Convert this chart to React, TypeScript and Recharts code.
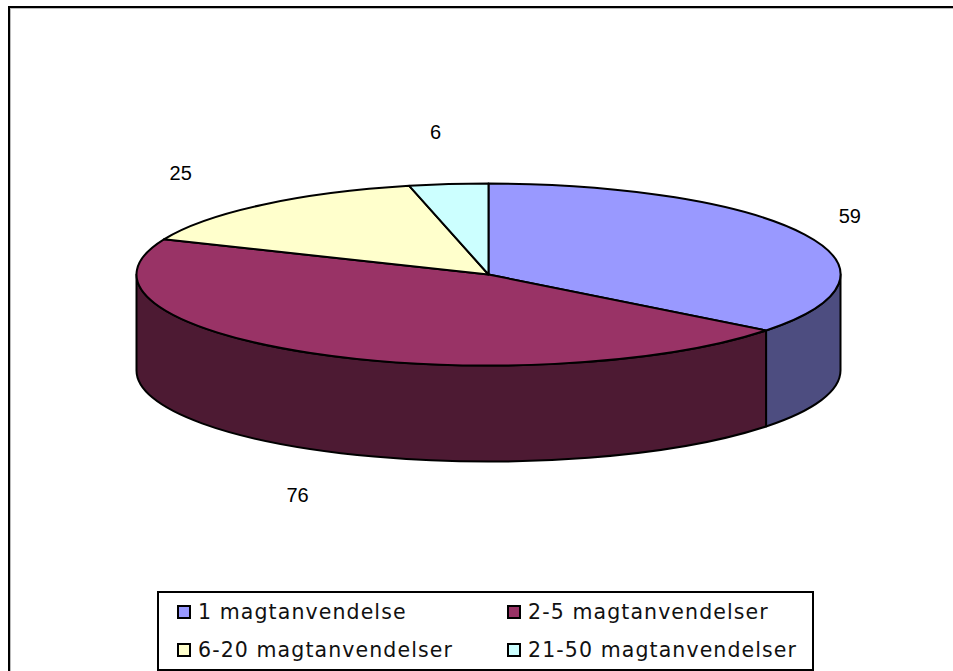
import React from "react";
import { PieChart, Pie, Legend } from "recharts";

const categories = ["1 magtanvendelse", "2-5 magtanvendelser", "6-20 magtanvendelser", "21-50 magtanvendelser"];
const values = [59, 76, 25, 6];
const topColors = ["#9999FF", "#993366", "#FFFFCC", "#CCFFFF"];
const wallColors = ["#4D4D80", "#4D1A33", "#808066", "#668080"];
const labelShift = [[45, -19], [-13, 142], [-81, -32], [-13, -52]];

const tableTop = categories.map((name, i) => ({ name, value: values[i], fill: topColors[i] }));
const tableWall = categories.map((name, i) => ({ name, value: values[i], fill: wallColors[i] }));

const CX = 488.5;
const CY = 274.5;
const RX = 352;
const RY = 91;
const DEPTH = 96;
const SQUASH = RY / RX;
const LINE = 2;

const rim = (cx: number, cy: number, r: number, deg: number) => {
  const a = (deg * Math.PI) / 180;
  return [cx + r * Math.cos(a), cy - r * SQUASH * Math.sin(a)];
};

const TopSlice = (p: any) => {
  const { cx, cy, outerRadius: r, startAngle, endAngle, fill } = p;
  const [x1, y1] = rim(cx, cy, r, startAngle);
  const [x2, y2] = rim(cx, cy, r, endAngle);
  const large = Math.abs(startAngle - endAngle) > 180 ? 1 : 0;
  return (
    <path
      d={`M${cx},${cy} L${x1},${y1} A${r},${r * SQUASH} 0 ${large} 1 ${x2},${y2} Z`}
      fill={fill}
      stroke="#000"
      strokeWidth={LINE}
      strokeLinejoin="round"
    />
  );
};

const WallSlice = (p: any) => {
  const { cx, cy, outerRadius: r, startAngle, endAngle, fill } = p;
  // Front half of the disc: angles between 0 and -180 in the library's convention
  const from = Math.min(startAngle, 0);
  const to = Math.max(endAngle, -180);
  if (from <= to) return <g />;
  const [x1, y1] = rim(cx, cy, r, from);
  const [x2, y2] = rim(cx, cy, r, to);
  const ry = r * SQUASH;
  return (
    <path
      d={`M${x1},${y1} A${r},${ry} 0 0 1 ${x2},${y2} L${x2},${y2 + DEPTH} A${r},${ry} 0 0 0 ${x1},${y1 + DEPTH} Z`}
      fill={fill}
      stroke="#000"
      strokeWidth={LINE}
      strokeLinejoin="round"
    />
  );
};

const renderLabel = (p: any) => {
  const { cx, cy, outerRadius: r, midAngle, index, value } = p;
  const [x, y] = rim(cx, cy, r, midAngle);
  return (
    <text
      x={x + labelShift[index][0]}
      y={y + labelShift[index][1]}
      textAnchor="middle"
      dominantBaseline="central"
      fill="#000"
      fontFamily="'Liberation Sans', Arial, sans-serif"
      fontSize={20}
    >
      {value}
    </text>
  );
};

const LegendBox = ({ payload }: any) => {
  const items = (payload || []).filter((e: any) => e.type !== "none");
  return (
    <div
      style={{
        boxSizing: "border-box",
        width: 657,
        height: 80,
        border: "2px solid #000",
        background: "#fff",
        position: "relative",
        fontFamily: "'DejaVu Sans', Verdana, sans-serif",
        fontSize: 20.5,
        letterSpacing: 1.1,
        color: "#111",
      }}
    >
      {items.map((e: any, i: number) => {
        const col = i % 2;
        const row = Math.floor(i / 2);
        return (
          <div
            key={e.value}
            style={{
              position: "absolute",
              left: col === 0 ? 18 : 348,
              top: row === 0 ? 0 : 38,
              height: 38,
              display: "flex",
              alignItems: "center",
              whiteSpace: "nowrap",
            }}
          >
            <span
              style={{
                display: "inline-block",
                boxSizing: "border-box",
                width: 14,
                height: 14,
                border: "2px solid #000",
                background: e.color,
                marginRight: 7,
              }}
            />
            {e.value}
          </div>
        );
      })}
    </div>
  );
};

export default function App() {
  return (
    <div style={{ position: "absolute", left: 0, top: 0, width: 953, height: 671, overflow: "hidden", background: "#fff" }}>
      <div
        style={{
          position: "absolute",
          left: 8,
          top: 6,
          width: 960,
          height: 680,
          borderLeft: "2px solid #000",
          borderTop: "2px solid #000",
          boxShadow: "inset 1px 1px 0 #bbb",
        }}
      />
      <PieChart width={953} height={671} margin={{ top: 0, right: 0, bottom: 0, left: 0 }} style={{ position: "absolute", left: 0, top: 0 }}>
        <Pie
          data={tableWall}
          dataKey="value"
          nameKey="name"
          cx={CX}
          cy={CY}
          innerRadius={0}
          outerRadius={RX}
          startAngle={90}
          endAngle={-270}
          legendType="none"
          shape={WallSlice}
          isAnimationActive={false}
        />
        <Pie
          data={tableTop}
          dataKey="value"
          nameKey="name"
          cx={CX}
          cy={CY}
          innerRadius={0}
          outerRadius={RX}
          startAngle={90}
          endAngle={-270}
          shape={TopSlice}
          label={renderLabel}
          labelLine={false}
          isAnimationActive={false}
        />
        <Legend
          content={LegendBox}
          itemSorter={null}
          wrapperStyle={{ position: "absolute", left: 157, top: 591, width: 657, height: 80, bottom: "auto" }}
        />
      </PieChart>
    </div>
  );
}
